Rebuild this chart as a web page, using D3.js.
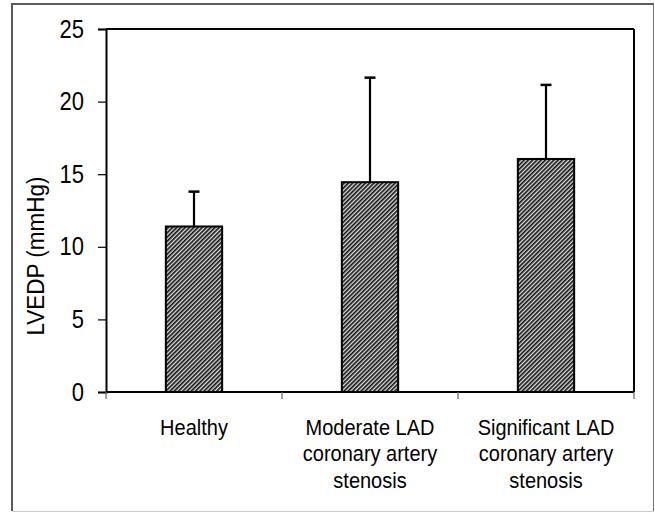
<!DOCTYPE html>
<html>
<head>
<meta charset="utf-8">
<script src="https://cdn.jsdelivr.net/npm/d3@7"></script>
<style>
  html, body { margin: 0; padding: 0; background: #fff; }
  svg { display: block; }
  text { font-family: "Liberation Sans", Arial, sans-serif; fill: #000; }
</style>
</head>
<body>
<svg id="chart" width="655" height="512"></svg>
<script>
const categories = ["Healthy", "Moderate LAD coronary artery stenosis", "Significant LAD coronary artery stenosis"];
const categoryLines = [["Healthy"], ["Moderate LAD", "coronary artery", "stenosis"], ["Significant LAD", "coronary artery", "stenosis"]];
const meanValues = [11.4, 14.45, 16.05];
const sdValues = [2.4, 7.2, 5.1];
const yTicks = [0, 5, 10, 15, 20, 25];
const yLabel = "LVEDP (mmHg)";

const svg = d3.select("#chart");
const plot = { left: 106, right: 634, top: 29, bottom: 392 };

// pattern
const defs = svg.append("defs");
const pat = defs.append("pattern")
  .attr("id", "hatch").attr("patternUnits", "userSpaceOnUse")
  .attr("width", 3).attr("height", 3)
  .attr("patternTransform", "rotate(45)");
pat.append("rect").attr("width", 3).attr("height", 3).attr("fill", "#e0e0e0");
pat.append("line").attr("x1", 0.8).attr("y1", -1).attr("x2", 0.8).attr("y2", 4)
  .attr("stroke", "#111").attr("stroke-width", 1.7);

// outer frame
svg.append("line").attr("x1", 12).attr("y1", 4).attr("x2", 12).attr("y2", 511).attr("stroke", "#5a5a5a").attr("stroke-width", 2);
svg.append("line").attr("x1", 11).attr("y1", 4).attr("x2", 654).attr("y2", 4).attr("stroke", "#5a5a5a").attr("stroke-width", 2);
svg.append("line").attr("x1", 653.5).attr("y1", 4).attr("x2", 653.5).attr("y2", 512).attr("stroke", "#777").attr("stroke-width", 1);
svg.append("line").attr("x1", 12).attr("y1", 511.5).attr("x2", 654).attr("y2", 511.5).attr("stroke", "#ccc").attr("stroke-width", 1);

const x = d3.scaleBand().domain(categories).range([plot.left, plot.right]).padding(0);
const y = d3.scaleLinear().domain([0, 25]).range([plot.bottom, plot.top]);
const barW = x.bandwidth() * 0.32;

// plot frame top/right
svg.append("line").attr("x1", plot.left).attr("y1", plot.top).attr("x2", plot.right).attr("y2", plot.top).attr("stroke", "#000").attr("stroke-width", 2);
svg.append("line").attr("x1", plot.right).attr("y1", plot.top).attr("x2", plot.right).attr("y2", plot.bottom).attr("stroke", "#000").attr("stroke-width", 2);

// y axis
const yAxis = d3.axisLeft(y).tickValues(yTicks).tickSize(8).tickPadding(14).tickFormat(d3.format("d"));
const gy = svg.append("g").attr("transform", `translate(${plot.left},0)`).call(yAxis);
gy.select(".domain").attr("stroke", "#000").attr("stroke-width", 2);
gy.selectAll(".tick line").attr("stroke", "#000").attr("stroke-width", 1.2);
gy.selectAll(".tick text")
  .attr("x", 0)
  .attr("transform", "translate(-22,0) scale(1,1.15)")
  .style("font-size", "22px").attr("font-family", "Liberation Sans, Arial, sans-serif").attr("fill", "#000");

// x axis baseline + ticks at band boundaries
svg.append("line").attr("x1", plot.left).attr("y1", plot.bottom).attr("x2", plot.right).attr("y2", plot.bottom).attr("stroke", "#000").attr("stroke-width", 2);
const bounds = categories.map(c => x(c)).concat([x(categories[categories.length - 1]) + x.bandwidth()]);
svg.selectAll(".xtick").data(bounds).enter().append("line")
  .attr("x1", d => d).attr("x2", d => d).attr("y1", plot.bottom).attr("y2", plot.bottom + 7)
  .attr("stroke", "#666").attr("stroke-width", 1.2);

// x labels
categories.forEach((c, i) => {
  const cx = x(c) + x.bandwidth() / 2;
  const t = svg.append("text").attr("transform", `translate(${cx},435) scale(1,1.06)`)
    .attr("text-anchor", "middle").style("font-size", "20px");
  categoryLines[i].forEach((ln, j) => {
    t.append("tspan").attr("x", 0).attr("y", j * 25).text(ln);
  });
});

// bars
svg.selectAll(".bar").data(categories).enter().append("rect")
  .attr("x", (d) => x(d) + x.bandwidth() / 2 - barW / 2)
  .attr("y", (d, i) => y(meanValues[i]))
  .attr("width", barW)
  .attr("height", (d, i) => y(0) - y(meanValues[i]))
  .attr("fill", "url(#hatch)").attr("stroke", "#000").attr("stroke-width", 2);

// error bars
svg.selectAll(".err").data(categories).enter().append("line")
  .attr("x1", d => x(d) + x.bandwidth() / 2).attr("x2", d => x(d) + x.bandwidth() / 2)
  .attr("y1", (d, i) => y(meanValues[i])).attr("y2", (d, i) => y(meanValues[i] + sdValues[i]))
  .attr("stroke", "#000").attr("stroke-width", 2.2);
svg.selectAll(".cap").data(categories).enter().append("line")
  .attr("x1", d => x(d) + x.bandwidth() / 2 - 5.5).attr("x2", d => x(d) + x.bandwidth() / 2 + 5.5)
  .attr("y1", (d, i) => y(meanValues[i] + sdValues[i])).attr("y2", (d, i) => y(meanValues[i] + sdValues[i]))
  .attr("stroke", "#000").attr("stroke-width", 2.5);

// y label
svg.append("text").attr("transform", "translate(44,256) rotate(-90) scale(1,1.05)")
  .attr("text-anchor", "middle").style("font-size", "22.5px").text(yLabel);
</script>
</body>
</html>
